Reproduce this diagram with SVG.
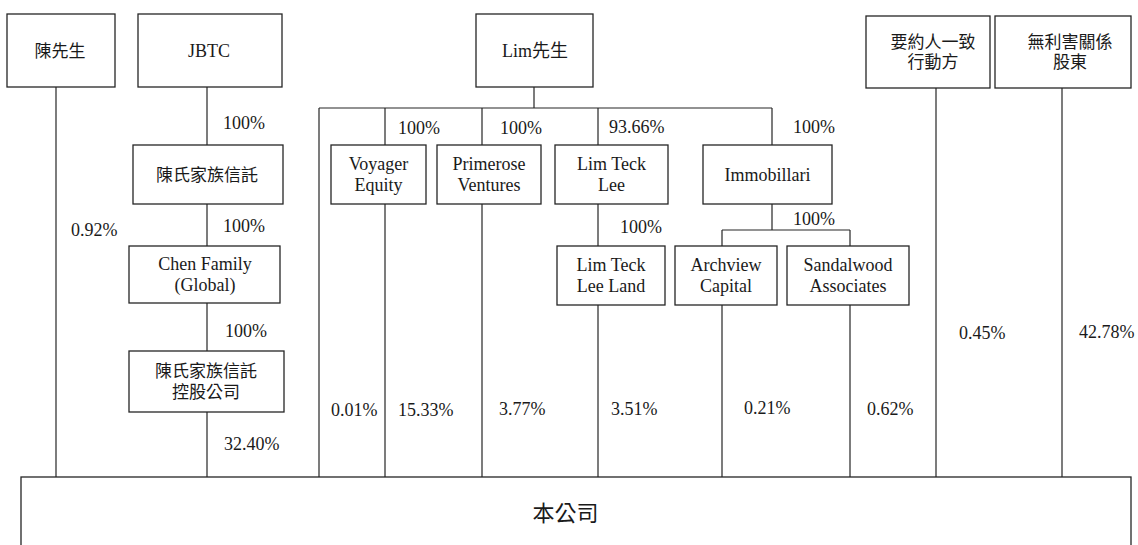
<svg xmlns="http://www.w3.org/2000/svg" width="1138" height="545" viewBox="0 0 1138 545">
<style>
.box{fill:#fff;stroke:#262626;stroke-width:1.3}
.ln{fill:none;stroke:#262626;stroke-width:1.2}
text{font-family:'Liberation Serif','Times New Roman','DejaVu Serif',serif;font-size:18px;fill:#1a1a1a;dominant-baseline:central}
.c{text-anchor:middle}
.cjk{font-family:'Liberation Serif','Noto Sans CJK TC','Noto Sans CJK SC',serif;font-size:17px}
.big{font-size:22px}
</style>
<rect width="1138" height="545" fill="#fff"/>
<g id="connectors">
<path class="ln" d="M56,87V477"/>
<path class="ln" d="M207,87V145M207,204V246M207,303V351M207,412V477"/>
<path class="ln" d="M534,87V108M319,108H772M319,108V477"/>
<path class="ln" d="M385,108V145M385,204V477"/>
<path class="ln" d="M482,108V145M482,204V477"/>
<path class="ln" d="M598,108V145M598,204V246M598,305V477"/>
<path class="ln" d="M772,108V145M772,204V230M722,230H850M722,230V246M850,230V246M722,305V477M850,305V477"/>
<path class="ln" d="M936,88V477M1062,88V477"/>
</g>
<g id="labels">
<text x="223" y="123">100%</text>
<text x="223" y="226">100%</text>
<text x="225" y="331">100%</text>
<text x="224" y="444">32.40%</text>
<text x="71" y="230">0.92%</text>
<text x="398" y="128">100%</text>
<text x="500" y="128">100%</text>
<text x="609" y="127">93.66%</text>
<text x="793" y="127">100%</text>
<text x="620" y="227">100%</text>
<text x="793" y="219">100%</text>
<text x="331" y="410">0.01%</text>
<text x="398" y="410">15.33%</text>
<text x="499" y="409">3.77%</text>
<text x="611" y="409">3.51%</text>
<text x="744" y="408">0.21%</text>
<text x="867" y="409">0.62%</text>
<text x="959" y="333">0.45%</text>
<text x="1079" y="332">42.78%</text>
</g>
<g id="mr-chen"><rect class="box" x="7" y="14" width="108" height="73"/><text class="c cjk" x="60" y="51">陳先生</text></g>
<g id="jbtc"><rect class="box" x="138" y="14" width="144" height="73"/><text class="c" x="209" y="51">JBTC</text></g>
<g id="mr-lim"><rect class="box" x="476" y="14" width="117" height="73"/><text class="c cjk" x="535" y="51" style="font-size:18px">Lim先生</text></g>
<g id="concert-parties"><rect class="box" x="866" y="16" width="124" height="72"/><text class="c cjk" x="933" y="42">要約人一致</text><text class="c cjk" x="933" y="62">行動方</text></g>
<g id="disinterested"><rect class="box" x="995" y="16" width="136" height="72"/><text class="c cjk" x="1070" y="42">無利害關係</text><text class="c cjk" x="1070" y="62">股東</text></g>
<g id="chen-trust"><rect class="box" x="133" y="145" width="150" height="59"/><text class="c cjk" x="207" y="175">陳氏家族信託</text></g>
<g id="chen-family-global"><rect class="box" x="129" y="246" width="151" height="57"/><text class="c" x="205" y="264">Chen Family</text><text class="c" x="205" y="285">(Global)</text></g>
<g id="chen-trust-holding"><rect class="box" x="129" y="351" width="155" height="61"/><text class="c cjk" x="206" y="371">陳氏家族信託</text><text class="c cjk" x="206" y="392">控股公司</text></g>
<g id="voyager"><rect class="box" x="331" y="145" width="95" height="59"/><text class="c" x="378.5" y="164">Voyager</text><text class="c" x="378.5" y="185">Equity</text></g>
<g id="primerose"><rect class="box" x="437" y="145" width="104" height="59"/><text class="c" x="489" y="164">Primerose</text><text class="c" x="489" y="185">Ventures</text></g>
<g id="lim-teck-lee"><rect class="box" x="555" y="145" width="113" height="59"/><text class="c" x="611.5" y="164">Lim Teck</text><text class="c" x="611.5" y="185">Lee</text></g>
<g id="immobillari"><rect class="box" x="703" y="145" width="129" height="59"/><text class="c" x="767.5" y="175">Immobillari</text></g>
<g id="lim-teck-lee-land"><rect class="box" x="557" y="246" width="108" height="59"/><text class="c" x="611" y="265">Lim Teck</text><text class="c" x="611" y="286">Lee Land</text></g>
<g id="archview"><rect class="box" x="675" y="246" width="102" height="59"/><text class="c" x="726" y="265">Archview</text><text class="c" x="726" y="286">Capital</text></g>
<g id="sandalwood"><rect class="box" x="787" y="246" width="122" height="59"/><text class="c" x="848" y="265">Sandalwood</text><text class="c" x="848" y="286">Associates</text></g>
<g id="company"><rect class="box" x="21" y="477" width="1110" height="90"/><text class="c cjk big" x="565.5" y="513">本公司</text></g>
</svg>
